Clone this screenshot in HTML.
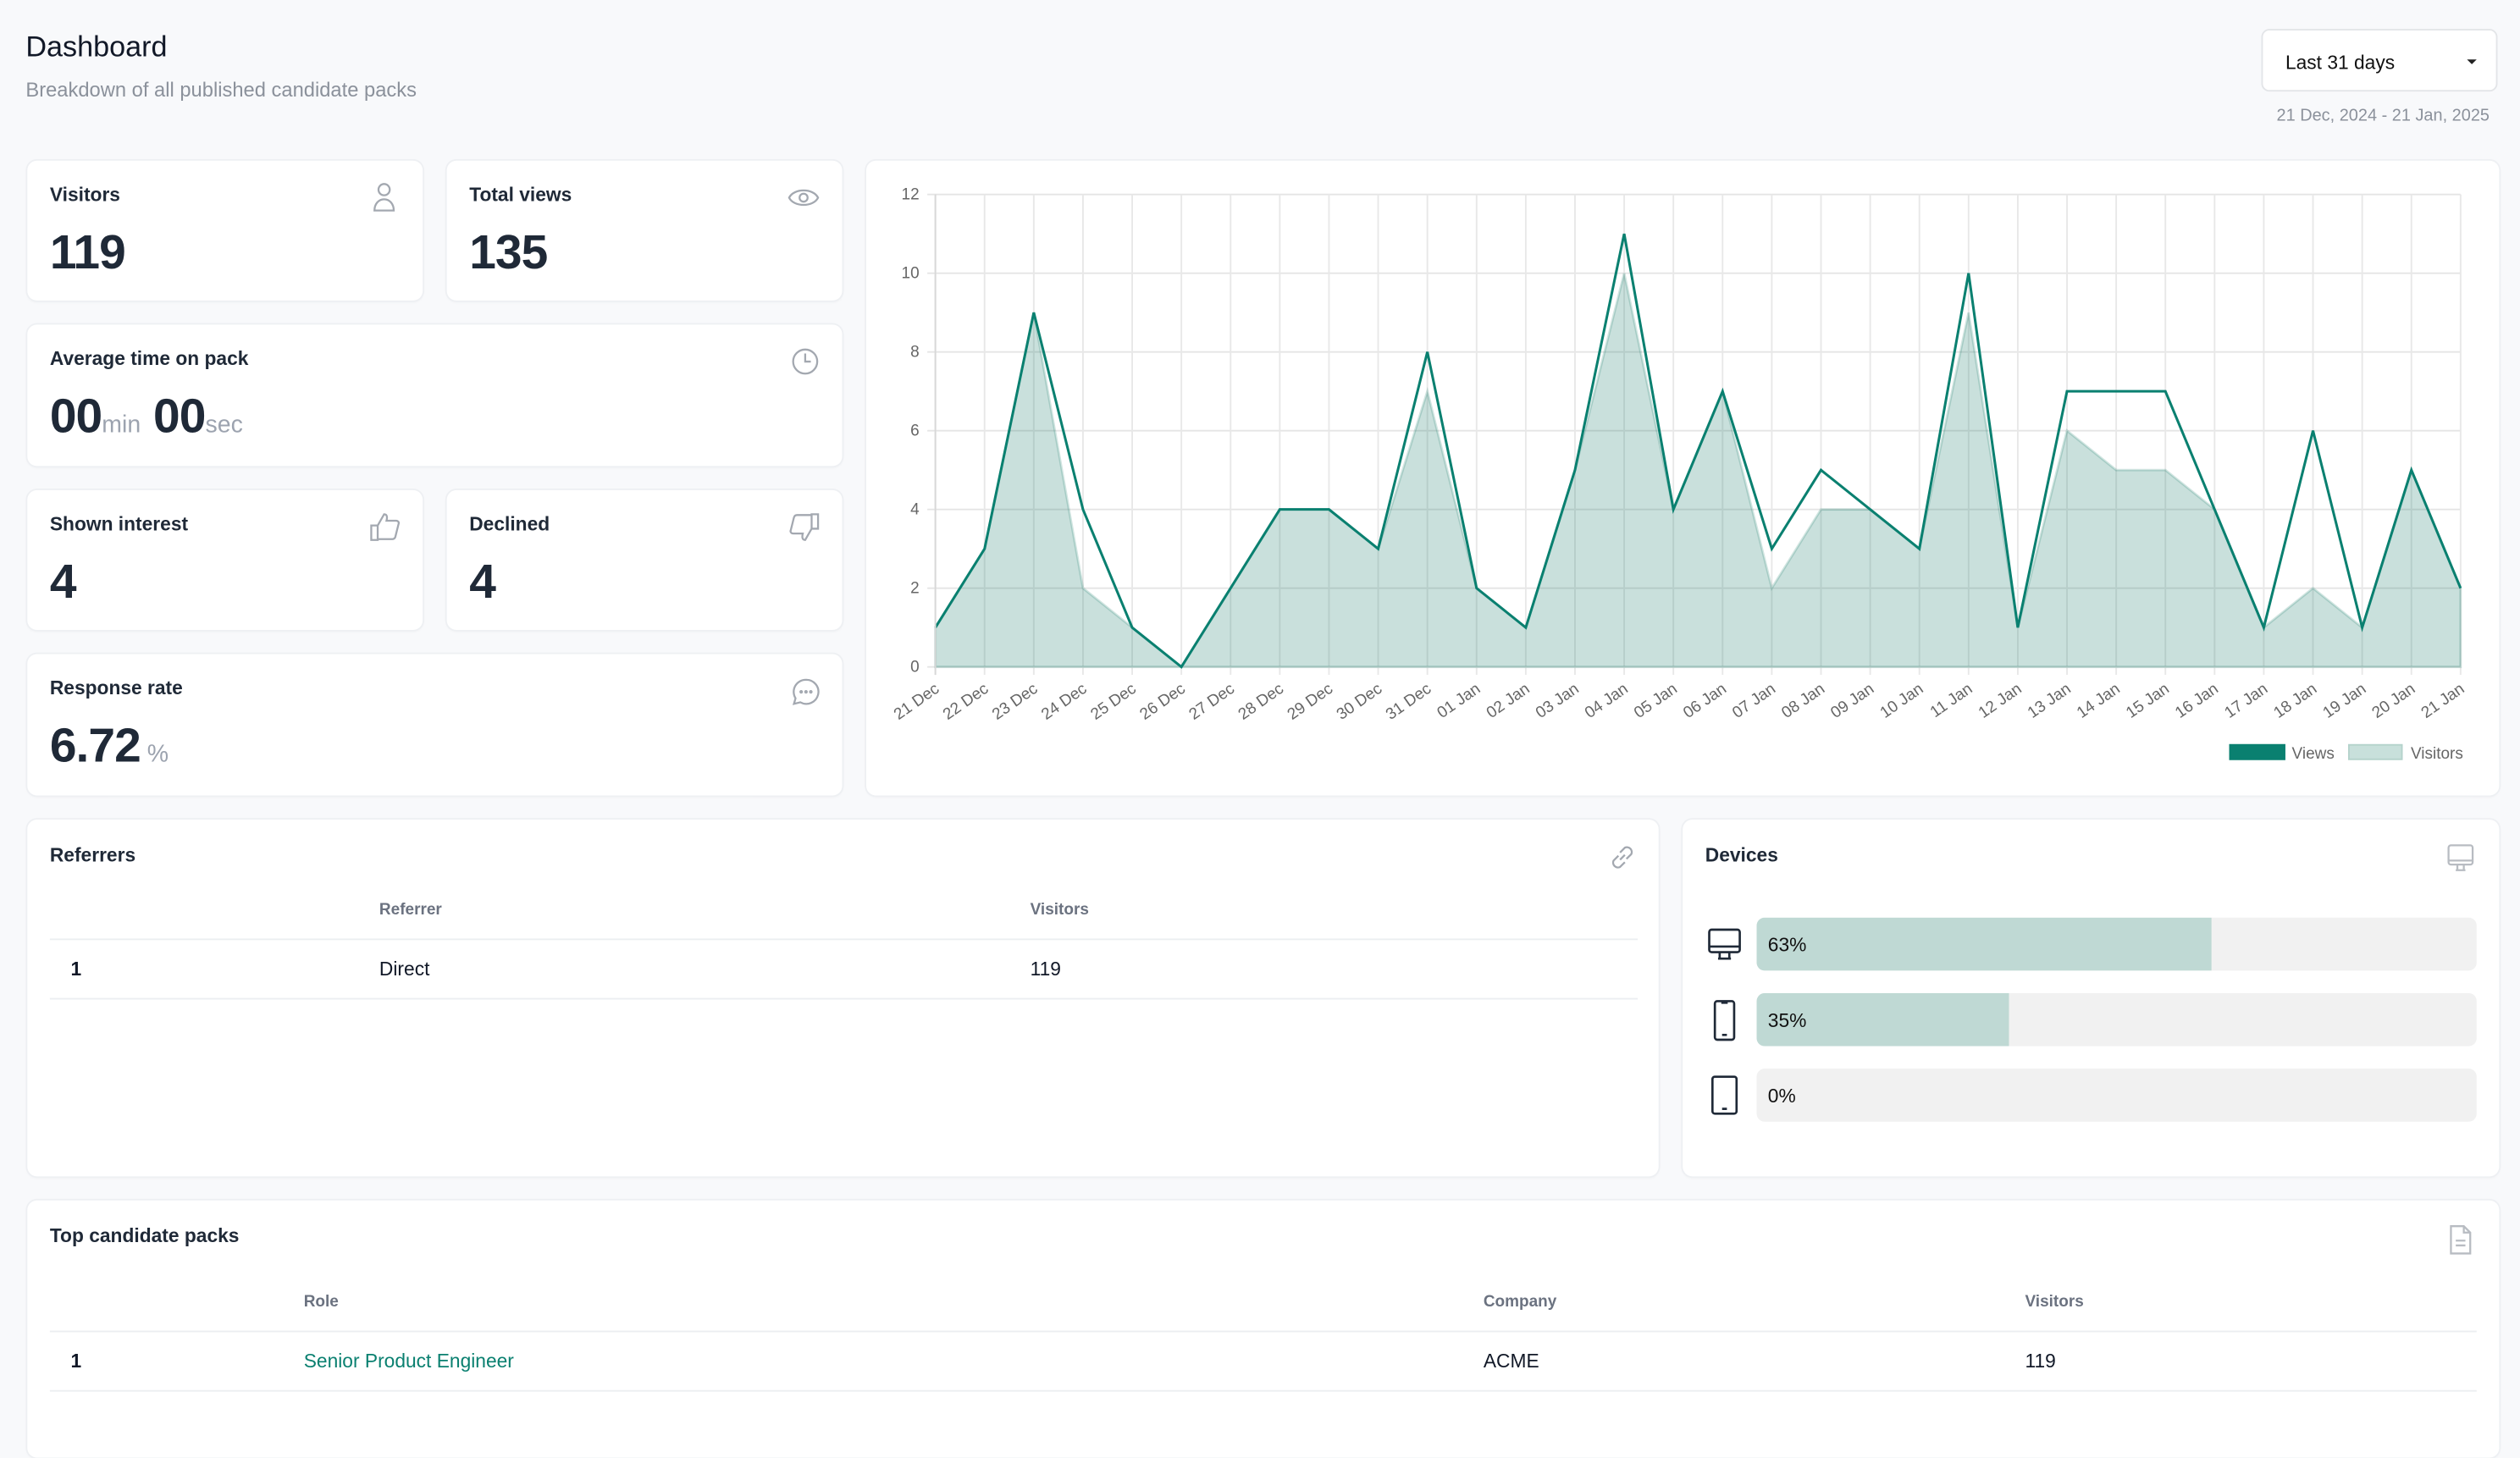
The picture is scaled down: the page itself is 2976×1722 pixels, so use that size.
<!DOCTYPE html>
<html><head><meta charset="utf-8">
<style>
html,body{margin:0;padding:0;}
body{width:2976px;height:1684px;overflow:hidden;background:#f8f9fb;font-family:"Liberation Sans",sans-serif;}
#w{position:absolute;left:0;top:0;width:1568px;height:887px;transform:scale(1.898);transform-origin:0 0;}
.a{position:absolute;}
.card{position:absolute;background:#fff;border-radius:6px;box-shadow:0 0 0 1px #eef0f3,0 1px 2px rgba(0,0,0,0.04);}
.lbl{position:absolute;left:14px;top:14px;font-size:12px;font-weight:bold;color:#1f2937;}
.val{position:absolute;left:14px;top:41px;font-size:30px;font-weight:bold;color:#1f2937;letter-spacing:-0.5px;}
.unit{font-size:15px;font-weight:normal;color:#9ca3af;letter-spacing:0;}
.ic{position:absolute;}
.th{position:absolute;font-size:10px;font-weight:bold;color:#6b7280;}
.td{position:absolute;font-size:12px;color:#111827;}
.hr{position:absolute;height:1px;background:#eceef1;}
.bar{position:absolute;left:1093px;width:448px;height:33px;border-radius:5px;background:#f1f1f1;overflow:hidden;}
.bar div{position:absolute;left:0;top:0;bottom:0;background:#bfd9d4;}
.bar span{position:absolute;left:7px;top:10px;font-size:12px;color:#111;}
</style></head><body><div id="w">
<div class="a" style="left:16px;top:19px;font-size:18px;color:#111827;">Dashboard</div>
<div class="a" style="left:16px;top:49px;font-size:12.5px;color:#8b919b;">Breakdown of all published candidate packs</div>
<div class="a" style="left:1407px;top:18px;width:147px;height:39px;background:#fff;border:1px solid #e3e5e8;border-radius:5px;box-sizing:border-box;">
<span class="a" style="left:14px;top:13px;font-size:12px;color:#111;">Last 31 days</span>
<span class="a" style="left:127px;top:18px;width:0;height:0;border-left:3px solid transparent;border-right:3px solid transparent;border-top:3px solid #222;"></span></div>
<div class="a" style="right:19px;top:66px;font-size:10.5px;color:#8b919b;">21 Dec, 2024 - 21 Jan, 2025</div>

<div class="card" style="left:17px;top:100px;width:246px;height:87px;"><div class="lbl">Visitors</div><div class="val">119</div>
<svg class="ic" style="left:214px;top:13px" width="16" height="20" viewBox="0 0 16 20" fill="none" stroke="#a3a8b0" stroke-width="1.2"><circle cx="8" cy="5" r="3.5"/><path d="M2 18c0-4 2.5-7 6-7s6 3 6 7z"/></svg></div>
<div class="card" style="left:278px;top:100px;width:246px;height:87px;"><div class="lbl">Total views</div><div class="val">135</div>
<svg class="ic" style="left:212px;top:15px" width="20" height="16" viewBox="0 0 20 16" fill="none" stroke="#a3a8b0" stroke-width="1.2"><path d="M1 8c3-6 15-6 18 0c-3 6-15 6-18 0z"/><circle cx="10" cy="8" r="2.5"/></svg></div>
<div class="card" style="left:17px;top:202px;width:507px;height:88px;"><div class="lbl">Average time on pack</div><div class="val">00<span class="unit">min</span> 00<span class="unit">sec</span></div>
<svg class="ic" style="left:475px;top:14px" width="18" height="18" viewBox="0 0 18 18" fill="none" stroke="#a3a8b0" stroke-width="1.2"><circle cx="9" cy="9" r="7.5"/><path d="M9 4v5h3.5"/></svg></div>
<div class="card" style="left:17px;top:305px;width:246px;height:87px;"><div class="lbl">Shown interest</div><div class="val">4</div>
<svg class="ic" style="left:213px;top:14px" width="19" height="18" viewBox="0 0 19 18" fill="none" stroke="#a3a8b0" stroke-width="1.2"><path d="M1 8h4v9H1zM5 8l4-7c2 0 2 2 1.5 4h6c1 0 2 1 1.5 2l-2 8c-.3 1-1 1.5-2 1.5H5"/></svg></div>
<div class="card" style="left:278px;top:305px;width:246px;height:87px;"><div class="lbl">Declined</div><div class="val">4</div>
<svg class="ic" style="left:213px;top:14px" width="19" height="18" viewBox="0 0 19 18" fill="none" stroke="#a3a8b0" stroke-width="1.2"><path d="M18 10h-4V1h4zM14 10l-4 7c-2 0-2-2-1.5-4h-6c-1 0-2-1-1.5-2l2-8C3.3 2 4 1.5 5 1.5h9"/></svg></div>
<div class="card" style="left:17px;top:407px;width:507px;height:88px;"><div class="lbl">Response rate</div><div class="val">6.72<span class="unit"> %</span></div>
<svg class="ic" style="left:476px;top:15px" width="17" height="17" viewBox="0 0 17 17" fill="none" stroke="#a3a8b0" stroke-width="1.2"><path d="M8.5 1a7.5 7.5 0 1 1-3.5 14L1 16l1-3.5A7.5 7.5 0 0 1 8.5 1z"/><circle cx="5.5" cy="8.5" r=".5"/><circle cx="8.5" cy="8.5" r=".5"/><circle cx="11.5" cy="8.5" r=".5"/></svg></div>

<div class="card" style="left:539px;top:100px;width:1016px;height:395px;"></div>
<svg class="a" style="left:0;top:0" width="1568" height="887">
<g stroke="#e5e5e5" stroke-width="1">
<line x1="577" y1="121" x2="1531" y2="121"/><line x1="577" y1="170" x2="1531" y2="170"/><line x1="577" y1="219" x2="1531" y2="219"/><line x1="577" y1="268" x2="1531" y2="268"/><line x1="577" y1="317" x2="1531" y2="317"/><line x1="577" y1="366" x2="1531" y2="366"/><line x1="577" y1="415" x2="1531" y2="415"/>
</g>
<g transform="translate(582,415) scale(30.613,-24.5)">
<g stroke="#e8e8e8" stroke-width="1">
<path vector-effect="non-scaling-stroke" d="M0 -0.2V12M1 -0.2V12M2 -0.2V12M3 -0.2V12M4 -0.2V12M5 -0.2V12M6 -0.2V12M7 -0.2V12M8 -0.2V12M9 -0.2V12M10 -0.2V12M11 -0.2V12M12 -0.2V12M13 -0.2V12M14 -0.2V12M15 -0.2V12M16 -0.2V12M17 -0.2V12M18 -0.2V12M19 -0.2V12M20 -0.2V12M21 -0.2V12M22 -0.2V12M23 -0.2V12M24 -0.2V12M25 -0.2V12M26 -0.2V12M27 -0.2V12M28 -0.2V12M29 -0.2V12M30 -0.2V12M31 -0.2V12"/>
</g>
<path fill="rgba(0,110,90,0.21)" stroke="rgba(0,110,90,0.18)" stroke-width="1.5" vector-effect="non-scaling-stroke" d="M0 0L0 1 1 3 2 9 3 2 4 1 5 0 6 2 7 4 8 4 9 3 10 7 11 2 12 1 13 5 14 10 15 4 16 7 17 2 18 4 19 4 20 3 21 9 22 1 23 6 24 5 25 5 26 4 27 1 28 2 29 1 30 5 31 2 31 0Z"/>
<polyline fill="none" stroke="#0a8070" stroke-width="1.6" stroke-linejoin="miter" vector-effect="non-scaling-stroke" points="0,1 1,3 2,9 3,4 4,1 5,0 6,2 7,4 8,4 9,3 10,8 11,2 12,1 13,5 14,11 15,4 16,7 17,3 18,5 19,4 20,3 21,10 22,1 23,7 24,7 25,7 26,4 27,1 28,6 29,1 30,5 31,2"/>
</g>
<line x1="582" y1="121" x2="582" y2="420" stroke="#d8d8d8"/>
<g font-size="10" fill="#666" text-anchor="end">
<text x="572" y="124">12</text><text x="572" y="173">10</text><text x="572" y="222">8</text><text x="572" y="271">6</text><text x="572" y="320">4</text><text x="572" y="369">2</text><text x="572" y="418">0</text>
</g>
<g font-size="10" fill="#666" text-anchor="end">
<text transform="translate(585,430) rotate(-35)">21 Dec</text>
<text transform="translate(615.6,430) rotate(-35)">22 Dec</text>
<text transform="translate(646.2,430) rotate(-35)">23 Dec</text>
<text transform="translate(676.8,430) rotate(-35)">24 Dec</text>
<text transform="translate(707.5,430) rotate(-35)">25 Dec</text>
<text transform="translate(738.1,430) rotate(-35)">26 Dec</text>
<text transform="translate(768.7,430) rotate(-35)">27 Dec</text>
<text transform="translate(799.3,430) rotate(-35)">28 Dec</text>
<text transform="translate(829.9,430) rotate(-35)">29 Dec</text>
<text transform="translate(860.5,430) rotate(-35)">30 Dec</text>
<text transform="translate(891.1,430) rotate(-35)">31 Dec</text>
<text transform="translate(921.7,430) rotate(-35)">01 Jan</text>
<text transform="translate(952.4,430) rotate(-35)">02 Jan</text>
<text transform="translate(983,430) rotate(-35)">03 Jan</text>
<text transform="translate(1013.6,430) rotate(-35)">04 Jan</text>
<text transform="translate(1044.2,430) rotate(-35)">05 Jan</text>
<text transform="translate(1074.8,430) rotate(-35)">06 Jan</text>
<text transform="translate(1105.4,430) rotate(-35)">07 Jan</text>
<text transform="translate(1136,430) rotate(-35)">08 Jan</text>
<text transform="translate(1166.6,430) rotate(-35)">09 Jan</text>
<text transform="translate(1197.3,430) rotate(-35)">10 Jan</text>
<text transform="translate(1227.9,430) rotate(-35)">11 Jan</text>
<text transform="translate(1258.5,430) rotate(-35)">12 Jan</text>
<text transform="translate(1289.1,430) rotate(-35)">13 Jan</text>
<text transform="translate(1319.7,430) rotate(-35)">14 Jan</text>
<text transform="translate(1350.3,430) rotate(-35)">15 Jan</text>
<text transform="translate(1380.9,430) rotate(-35)">16 Jan</text>
<text transform="translate(1411.6,430) rotate(-35)">17 Jan</text>
<text transform="translate(1442.2,430) rotate(-35)">18 Jan</text>
<text transform="translate(1472.8,430) rotate(-35)">19 Jan</text>
<text transform="translate(1503.4,430) rotate(-35)">20 Jan</text>
<text transform="translate(1534,430) rotate(-35)">21 Jan</text>
</g>
<rect x="1387" y="463" width="35" height="10" fill="#0a8070"/>
<text x="1426" y="472" font-size="10" fill="#666">Views</text>
<rect x="1461.5" y="463.5" width="33" height="9" fill="#c8e0db" stroke="#b5d3cc"/>
<text x="1500" y="472" font-size="10" fill="#666">Visitors</text>
</svg>

<div class="card" style="left:17px;top:510px;width:1015px;height:222px;"><div class="lbl" style="top:15px;">Referrers</div>
<svg class="ic" style="left:983px;top:14px" width="19" height="19" viewBox="0 0 19 19" fill="none" stroke="#a3a8b0" stroke-width="1.2"><path d="M8 11l3-3M7 8.5l-3 3a3 3 0 0 0 4 4l3-3M12 10.5l3-3a3 3 0 0 0-4-4l-3 3"/></svg></div>
<div class="th" style="left:236px;top:561px;">Referrer</div><div class="th" style="left:641px;top:561px;">Visitors</div>
<div class="hr" style="left:31px;top:584px;width:988px;"></div>
<div class="td" style="left:44px;top:596px;font-weight:bold;">1</div><div class="td" style="left:236px;top:596px;">Direct</div><div class="td" style="left:641px;top:596px;">119</div>
<div class="hr" style="left:31px;top:621px;width:988px;"></div>

<div class="card" style="left:1047px;top:510px;width:508px;height:222px;"><div class="lbl" style="top:15px;">Devices</div>
<svg class="ic" style="left:475px;top:15px" width="18" height="18" viewBox="0 0 18 18" fill="none" stroke="#b8bcc2" stroke-width="1.2"><rect x="1.5" y="1" width="15" height="12" rx="1.5"/><path d="M1.5 10.5h15M7 13v3M11 13v3M6 16.5h6"/></svg></div>
<svg class="a" style="left:1062px;top:577px" width="22" height="22" viewBox="0 0 22 22" fill="none" stroke="#1f2937" stroke-width="1.4"><rect x="1.5" y="1.5" width="19" height="14" rx="1.5"/><path d="M1.5 12h19M8 15.5v4M14 15.5v4M7 19.5h8"/></svg>
<svg class="a" style="left:1065px;top:622px" width="16" height="26" viewBox="0 0 16 26" fill="none" stroke="#1f2937" stroke-width="1.4"><rect x="2" y="1" width="12" height="24" rx="1.5"/><path d="M6 2h4M6.5 22h3"/></svg>
<svg class="a" style="left:1064px;top:669px" width="18" height="26" viewBox="0 0 18 26" fill="none" stroke="#1f2937" stroke-width="1.4"><rect x="1.5" y="1" width="15" height="23" rx="1.5"/><path d="M7.5 21h3"/></svg>
<div class="bar" style="top:571px;"><div style="width:283px"></div><span>63%</span></div>
<div class="bar" style="top:618px;"><div style="width:157px"></div><span>35%</span></div>
<div class="bar" style="top:665px;"><span>0%</span></div>

<div class="card" style="left:17px;top:747px;width:1538px;height:160px;"><div class="lbl" style="top:15px;">Top candidate packs</div>
<svg class="ic" style="left:1506px;top:15px" width="16" height="19" viewBox="0 0 16 19" fill="none" stroke="#b8bcc2" stroke-width="1.2"><path d="M2 1h8l4 4v13H2zM10 1v4h4M5 10h6M5 13h6"/></svg></div>
<div class="th" style="left:189px;top:805px;">Role</div><div class="th" style="left:923px;top:805px;">Company</div><div class="th" style="left:1260px;top:805px;">Visitors</div>
<div class="hr" style="left:31px;top:828px;width:1510px;"></div>
<div class="td" style="left:44px;top:840px;font-weight:bold;">1</div><div class="td" style="left:189px;top:840px;color:#0a8070;">Senior Product Engineer</div><div class="td" style="left:923px;top:840px;">ACME</div><div class="td" style="left:1260px;top:840px;">119</div>
<div class="hr" style="left:31px;top:865px;width:1510px;"></div>
</div></body></html>
